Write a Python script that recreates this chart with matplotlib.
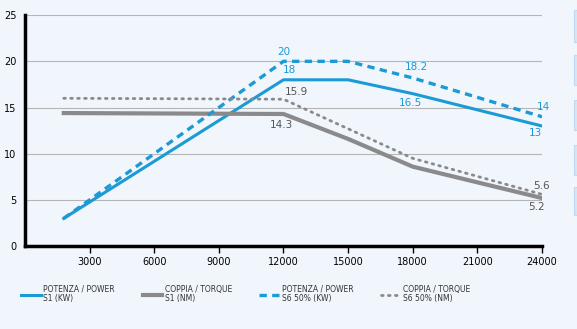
import matplotlib.pyplot as plt
from matplotlib.patches import Rectangle
import numpy as np

# --- Data ---
rpm = [1800, 12000, 15000, 18000, 24000]
power_s1 = [3.0, 18.0, 18.0, 16.5, 13.0]
power_s6 = [3.0, 20.0, 20.0, 18.2, 14.0]
torque_s1 = [14.4, 14.3, 11.6, 8.6, 5.2]
torque_s6 = [16.0, 15.9, 12.7, 9.5, 5.6]

x_ticks = [3000, 6000, 9000, 12000, 15000, 18000, 21000, 24000]
y_ticks = [0, 5, 10, 15, 20, 25]

# value annotations: (x, y, text, dx_pt, dy_pt, series)
annotations = [
    (12000, 20.0, '20', 0, 6.5, 'p'),
    (12000, 18.0, '18', 4.5, 7, 'p'),
    (18000, 18.2, '18.2', 3, 8, 'p'),
    (18000, 16.5, '16.5', -2, -6.5, 'p'),
    (24000, 14.0, '14', 1, 7, 'p'),
    (24000, 13.0, '13', -5, -5, 'p'),
    (12000, 15.9, '15.9', 9.5, 5, 't'),
    (12000, 14.3, '14.3', -1.5, -8, 't'),
    (24000, 5.6, '5.6', 0, 6, 't'),
    (24000, 5.2, '5.2', -4, -6.5, 't'),
]

blue = '#1b9ad6'
grey = '#8a8a8c'
bg = '#f1f6fc'

fig = plt.figure(figsize=(5.77, 3.29), dpi=100, facecolor=bg)
ax = fig.add_axes([0.0433, 0.252, 0.896, 0.702])
ax.set_facecolor(bg)

ax.plot(rpm, power_s1, color=blue, lw=2.2, label='POTENZA / POWER\nS1 (KW)')
ax.plot(rpm, torque_s1, color=grey, lw=3.0, label='COPPIA / TORQUE\nS1 (NM)')
ax.plot(rpm, power_s6, color=blue, lw=2.4, ls=(0, (2.2, 1.6)),
        label='POTENZA / POWER\nS6 50% (KW)')
ax.plot(rpm, torque_s6, color=grey, lw=2.0, ls=(0, (0.6, 1.9)),
        dash_capstyle='round', label='COPPIA / TORQUE\nS6 50% (NM)')

for x, y, t, dx, dy, s in annotations:
    ax.annotate(t, (x, y), xytext=(dx, dy), textcoords='offset points',
                ha='center', va='center', fontsize=7.5,
                color=blue if s == 'p' else '#555555')

ax.set_xlim(0, 24000)
ax.set_ylim(0, 25)
ax.set_xticks(x_ticks)
ax.set_yticks(y_ticks)
ax.tick_params(axis='x', length=5, width=1, direction='out', labelsize=7,
               pad=3, color='black')
ax.tick_params(axis='y', length=0, labelsize=7, pad=6)
ax.grid(axis='y', color='#b5b5b5', lw=0.8)
ax.set_axisbelow(True)
for side in ['top', 'right']:
    ax.spines[side].set_visible(False)
for side in ['left', 'bottom']:
    ax.spines[side].set_linewidth(2.5)
    ax.spines[side].set_color('black')

leg = ax.legend(loc='upper left', bbox_to_anchor=(0.025, 0.155),
                bbox_transform=fig.transFigure, ncol=4, frameon=False,
                fontsize=5.5, handlelength=2.6, handletextpad=0.3,
                columnspacing=3.6, labelspacing=0.2)
for t in leg.get_texts():
    t.set_color('#333333')
    t.set_linespacing(0.95)

# light blue tabs cut off at the right edge
for y0, h in [(10, 32), (55, 30), (100, 30), (145, 30), (187, 28)]:
    fig.patches.append(Rectangle((574 / 577, 1 - (y0 + h) / 329), 4 / 577, h / 329,
                                 transform=fig.transFigure, facecolor='#d6e6f5',
                                 edgecolor='#c2d8ee', lw=0.8))

fig.savefig('out.png', dpi=100, facecolor=bg)
